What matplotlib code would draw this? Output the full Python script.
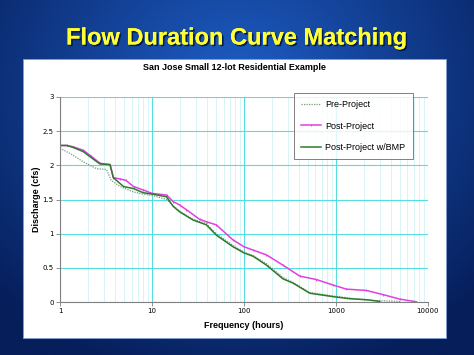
import numpy as np
import matplotlib.pyplot as plt
import matplotlib.patheffects as pe
from matplotlib.ticker import FixedLocator, NullFormatter

# data
pre_freq = [1, 1.3, 1.8, 2.5, 3.2, 3.6, 4.5, 6.3, 8, 10, 14.4, 17, 20, 28, 39, 50, 76, 100, 126, 176, 266, 340, 520, 930, 1400, 2150, 3000, 5000]
pre_q = [2.25, 2.17, 2.05, 1.95, 1.94, 1.78, 1.69, 1.61, 1.58, 1.56, 1.50, 1.41, 1.33, 1.21, 1.15, 1.00, 0.83, 0.73, 0.68, 0.56, 0.36, 0.29, 0.14, 0.09, 0.06, 0.03, 0.02, 0.01]

post_freq = [1, 1.18, 1.4, 1.79, 2.2, 2.72, 3.5, 3.8, 4.5, 5.2, 6.3, 8, 10, 14.4, 17, 20, 23.7, 33, 40, 50, 76, 100, 126, 176, 266, 405, 613, 930, 1300, 2150, 3250, 4940, 7500]
post_q = [2.29, 2.29, 2.27, 2.22, 2.13, 2.03, 2.01, 1.82, 1.80, 1.78, 1.69, 1.64, 1.59, 1.565, 1.47, 1.42, 1.35, 1.21, 1.17, 1.13, 0.91, 0.81, 0.76, 0.69, 0.54, 0.38, 0.33, 0.25, 0.19, 0.17, 0.11, 0.044, 0.005]

bmp_freq = [1, 1.18, 1.4, 1.79, 2.2, 2.72, 3.5, 3.8, 4.9, 6.3, 8, 10, 14.4, 17, 20, 28, 39, 50, 76, 100, 126, 176, 266, 340, 520, 930, 1400, 2150, 3000]
bmp_q = [2.29, 2.29, 2.26, 2.2, 2.11, 2.02, 2.01, 1.82, 1.69, 1.66, 1.60, 1.58, 1.54, 1.40, 1.32, 1.20, 1.13, 0.98, 0.81, 0.72, 0.67, 0.54, 0.34, 0.28, 0.13, 0.08, 0.05, 0.035, 0.01]

x_ticks = [1, 10, 100, 1000, 10000]
y_ticks = [0, 0.5, 1, 1.5, 2, 2.5, 3]

fig = plt.figure(figsize=(4.74, 3.55), dpi=100)

# slide background gradient
bg = fig.add_axes([0, 0, 1, 1])
yy, xx = np.mgrid[0:1:200j, 0:1:200j]
d = np.sqrt(((xx - 0.5) / 0.7) ** 2 + ((yy - 0.25) / 0.85) ** 2)
d = np.clip(d, 0, 1)
c_in = np.array([30, 95, 200]) / 255
c_out = np.array([6, 30, 90]) / 255
img = c_in[None, None, :] * (1 - d[..., None]) + c_out[None, None, :] * d[..., None]
bg.imshow(img, extent=[0, 1, 0, 1], aspect='auto', origin='upper')
bg.set_xlim(0, 1)
bg.set_ylim(0, 1)
bg.axis('off')

# white chart panel
bg.add_patch(plt.Rectangle((0.0485, 0.048), 0.8925, 0.786, facecolor='white', edgecolor='#7fa0d0', lw=0.6))

fig.text(0.5, 0.893, 'Flow Duration Curve Matching', color='#ffff33', fontsize=17,
         fontweight='bold', family='Liberation Sans', ha='center', va='center',
         path_effects=[pe.withSimplePatchShadow(offset=(1.2, -1.2), shadow_rgbFace='#001040', alpha=0.8), pe.Normal()])
fig.text(0.495, 0.811, 'San Jose Small 12-lot Residential Example', fontsize=6.5,
         fontweight='bold', family='Liberation Sans', ha='center', va='center')

ax = fig.add_axes([0.1266, 0.149, 0.776, 0.578])
ax.set_xscale('log')
ax.set_xlim(1, 10000)
ax.set_ylim(0, 3)

ax.plot(pre_freq, pre_q, color='#7a9a7a', lw=0.9, ls=(0, (1, 1)), label='Pre-Project')
ax.plot(post_freq, post_q, color='#e23fe0', lw=1.1, marker='|', ms=2, mew=0.6, label='Post-Project')
ax.plot(bmp_freq, bmp_q, color='#2f7a2f', lw=1.1, label='Post-Project w/BMP')

ax.xaxis.set_major_locator(FixedLocator(x_ticks))
ax.set_xticklabels([str(t) for t in x_ticks])
ax.xaxis.set_minor_locator(FixedLocator([m * 10 ** e for e in range(4) for m in range(2, 10)]))
ax.xaxis.set_minor_formatter(NullFormatter())
ax.set_yticks(y_ticks)
ax.set_yticklabels(['0', '0.5', '1', '1.5', '2', '2.5', '3'])

ax.grid(True, which='major', color='#55dde0', lw=0.8)
ax.grid(True, which='minor', axis='x', color='#c8f0f0', lw=0.5)
ax.set_axisbelow(True)
for s in ['top', 'right']:
    ax.spines[s].set_visible(False)
for s in ['left', 'bottom']:
    ax.spines[s].set_color('#808080')
    ax.spines[s].set_linewidth(0.8)
ax.tick_params(which='major', length=3, width=0.6, color='#808080', labelsize=5, pad=1.5)
ax.tick_params(which='minor', length=0)

ax.set_xlabel('Frequency (hours)', fontsize=6.5, fontweight='bold', family='Liberation Sans', labelpad=5)
ax.set_ylabel('Discharge (cfs)', fontsize=6.5, fontweight='bold', family='Liberation Sans', labelpad=1.5)

leg = ax.legend(loc='upper right', bbox_to_anchor=(0.959, 1.018), frameon=True,
                fancybox=False, edgecolor='#606060', labelspacing=1.35, handlelength=2.2,
                handletextpad=0.5, borderpad=0.8, borderaxespad=0,
                prop={'family': 'Liberation Sans', 'size': 6.5})
leg.get_frame().set_linewidth(0.7)

fig.savefig('out.png', dpi=100)
